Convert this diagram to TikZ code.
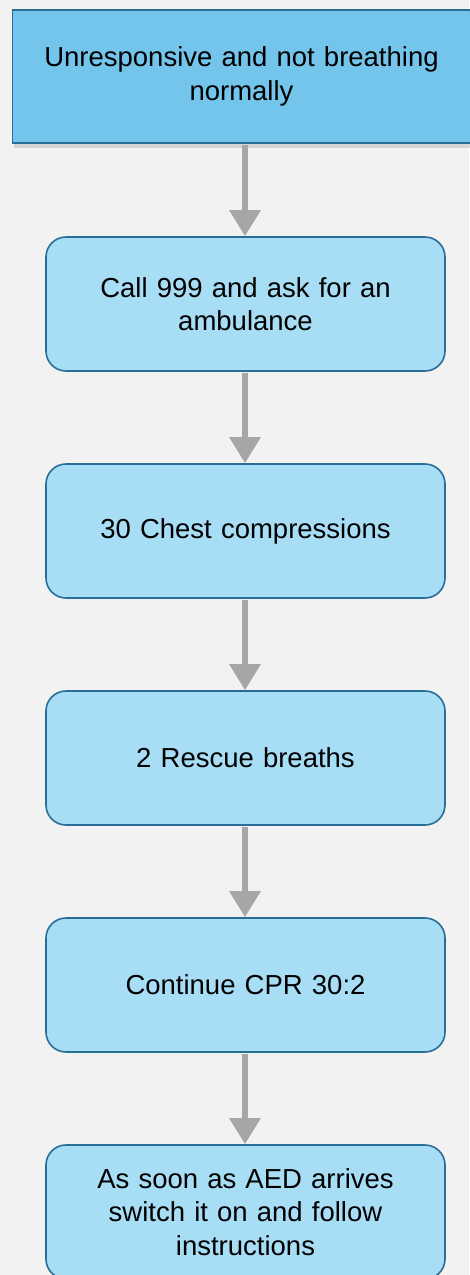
\documentclass[tikz,border=0pt]{standalone}
\usepackage{fontspec}
\setmainfont{Liberation Sans}
\usetikzlibrary{arrows.meta}
\definecolor{bg}{RGB}{242,242,242}
\definecolor{topfill}{RGB}{115,197,236}
\definecolor{boxfill}{RGB}{168,221,246}
\definecolor{edge}{RGB}{40,110,150}
\definecolor{arr}{RGB}{166,166,166}
\begin{document}
\begin{tikzpicture}[x=1pt,y=-1pt,
  stepbox/.style={draw=edge,line width=1.6pt,fill=boxfill,rounded corners=20pt,
    minimum width=399pt,minimum height=134pt,text width=380pt,align=center,
    font=\fontsize{27.5}{33.5}\selectfont,inner sep=0pt},
  topbox/.style={draw=edge,line width=1.6pt,fill=topfill,
    minimum width=458pt,minimum height=133pt,text width=440pt,align=center,
    font=\fontsize{27.5}{33.5}\selectfont,inner sep=0pt},
  flow/.style={draw=arr,line width=6pt,-{Triangle[width=30pt,length=26pt]}}]
\useasboundingbox (0,0) rectangle (469,1275);
\fill[bg] (0,0) rectangle (469,1275);
\fill[black!30,opacity=0.45] (14,13) rectangle (474,148);
\node[topbox] (n0) at (241.5,76.5) {Unresponsive and not breathing\\normally};
\node[stepbox] (n1) at (245.5,304) {Call 999 and ask for an\\ambulance};
\node[stepbox] (n2) at (245.5,531) {30 Chest compressions};
\node[stepbox] (n3) at (245.5,758) {2 Rescue breaths};
\node[stepbox] (n4) at (245.5,985) {Continue CPR 30:2};
\node[stepbox] (n5) at (245.5,1212) {As soon as AED arrives\\switch it on and follow\\instructions};
\foreach \a/\b in {n0/n1,n1/n2,n2/n3,n3/n4,n4/n5}
  \draw[flow] (\a.south -| 245,0) ++(0,1) -- (\b.north -| 245,0);
\end{tikzpicture}
\end{document}
